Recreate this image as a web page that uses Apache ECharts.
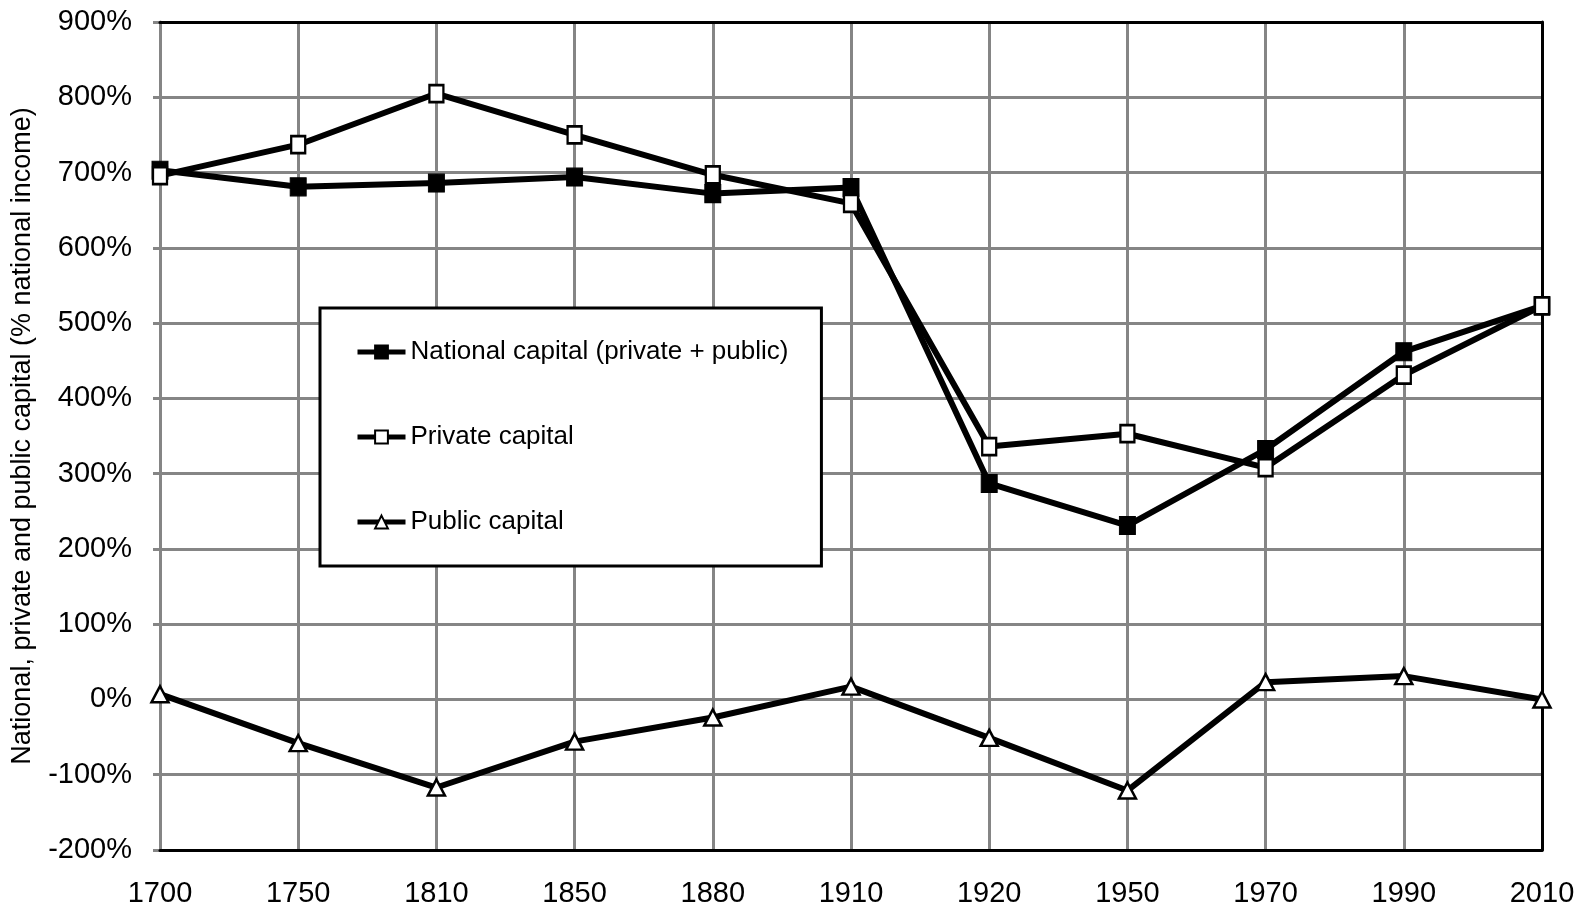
<!DOCTYPE html>
<html>
<head>
<meta charset="utf-8">
<script src="https://cdn.jsdelivr.net/npm/echarts@6/dist/echarts.min.js"></script>
<style>
html,body{margin:0;padding:0;background:#fff;}
#chart{width:1589px;height:908px;}
</style>
</head>
<body>
<div id="chart"></div>
<script>
var years = ['1700','1750','1810','1850','1880','1910','1920','1950','1970','1990','2010'];
var nationalCapital = [703, 681, 686, 694, 672, 680, 287, 231, 332, 462, 523];
var privateCapital = [696, 737, 805, 750, 697, 659, 336, 353, 308, 431, 523];
var publicCapital = [7, -58, -117, -56, -24, 17, -51, -121, 23, 31, 0];
var seriesNames = ['National capital (private + public)', 'Private capital', 'Public capital'];
var yAxisTitle = 'National, private and public capital (% national income)';

var FONT = "'Liberation Sans', Arial, sans-serif";
var GRID_GREY = '#858585';

var chart = echarts.init(document.getElementById('chart'));
chart.setOption({
  animation: false,
  backgroundColor: '#fff',
  grid: { left: 160, right: 47, top: 22, bottom: 57, show: false },
  legend: {
    orient: 'vertical',
    left: 320,
    top: 308,
    z: 10,
    backgroundColor: '#fff',
    borderColor: '#000',
    borderWidth: 3,
    borderRadius: 0,
    padding: [31, 33, 31, 35],
    itemGap: 59,
    itemWidth: 48,
    itemHeight: 16,
    lineStyle: { width: 5 },
    textStyle: { fontFamily: FONT, fontSize: 26, color: '#000', lineHeight: 26 },
    data: seriesNames
  },
  xAxis: [{
    type: 'category',
    data: years,
    boundaryGap: false,
    z: 2,
    axisLine: { show: true, onZero: false, lineStyle: { color: '#000', width: 3 } },
    axisTick: { show: false },
    axisLabel: { fontFamily: FONT, fontSize: 29, color: '#000', margin: 29, interval: 0 },
    splitLine: { show: true, lineStyle: { color: GRID_GREY, width: 3 } }
  }, {
    type: 'category',
    data: years,
    boundaryGap: false,
    position: 'top',
    z: 3,
    axisLine: { show: true, onZero: false, lineStyle: { color: '#000', width: 3 } },
    axisTick: { show: false },
    axisLabel: { show: false },
    splitLine: { show: false }
  }],
  yAxis: [{
    type: 'value',
    min: -200,
    max: 900,
    interval: 100,
    z: 1,
    name: yAxisTitle,
    nameLocation: 'middle',
    nameGap: 124,
    nameTextStyle: { fontFamily: FONT, fontSize: 27, color: '#000' },
    axisLine: { show: true, onZero: false, lineStyle: { color: GRID_GREY, width: 3 } },
    axisTick: { show: true, length: 7, lineStyle: { color: GRID_GREY, width: 3 } },
    axisLabel: { fontFamily: FONT, fontSize: 29, color: '#000', margin: 28, formatter: '{value}%' },
    splitLine: { show: true, lineStyle: { color: GRID_GREY, width: 3 } }
  }, {
    type: 'value',
    min: -200,
    max: 900,
    interval: 100,
    position: 'right',
    z: 3,
    axisLine: { show: true, onZero: false, lineStyle: { color: '#000', width: 3 } },
    axisTick: { show: false },
    axisLabel: { show: false },
    splitLine: { show: false }
  }],
  series: [{
    name: seriesNames[0],
    type: 'line',
    data: nationalCapital,
    z: 6,
    clip: false,
    symbol: 'rect',
    symbolSize: [16, 18],
    showAllSymbol: true,
    lineStyle: { color: '#000', width: 6 },
    itemStyle: { color: '#000', borderColor: '#000', borderWidth: 1 }
  }, {
    name: seriesNames[1],
    type: 'line',
    data: privateCapital,
    z: 7,
    clip: false,
    symbol: 'rect',
    symbolSize: [14, 17],
    showAllSymbol: true,
    lineStyle: { color: '#000', width: 6 },
    itemStyle: { color: '#fff', borderColor: '#000', borderWidth: 2.5 }
  }, {
    name: seriesNames[2],
    type: 'line',
    data: publicCapital,
    z: 6,
    clip: false,
    symbol: 'triangle',
    symbolSize: [17, 16],
    showAllSymbol: true,
    lineStyle: { color: '#000', width: 6 },
    itemStyle: { color: '#fff', borderColor: '#000', borderWidth: 2.5 }
  }]
});
</script>
</body>
</html>
